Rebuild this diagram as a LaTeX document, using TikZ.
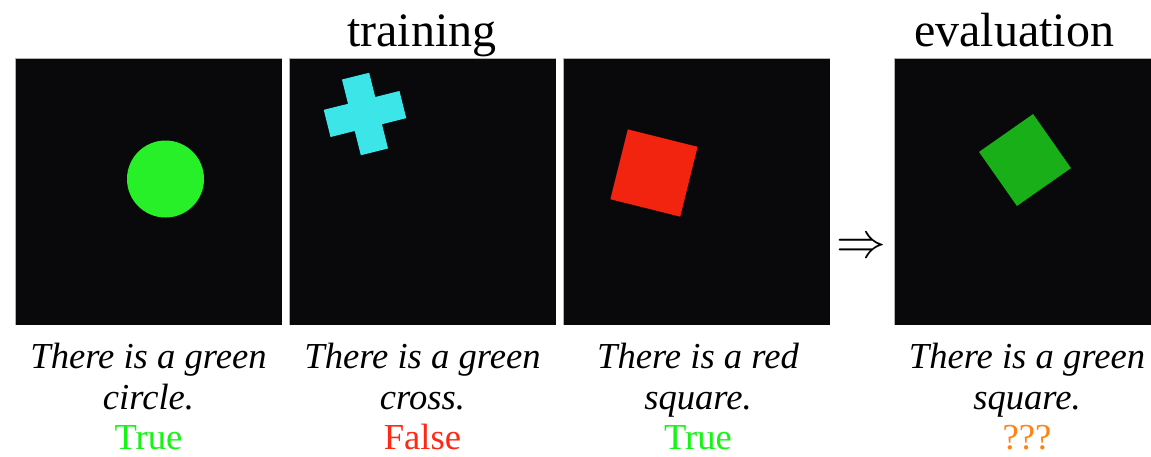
\documentclass[tikz,border=0pt]{standalone}
\usepackage{fontspec}
\setmainfont{Liberation Serif}
\definecolor{panelbg}{RGB}{9,9,11}
\definecolor{brgreen}{RGB}{40,240,40}
\definecolor{dkgreen}{RGB}{25,175,25}
\definecolor{shred}{RGB}{242,35,15}
\definecolor{shcyan}{RGB}{60,230,232}
\definecolor{valgreen}{RGB}{20,245,20}
\definecolor{valred}{RGB}{255,40,20}
\definecolor{valorange}{RGB}{255,130,20}
\begin{document}
\begin{tikzpicture}[x=0.5pt,y=-0.5pt,
  titletxt/.style={font=\fontsize{24}{28}\selectfont,anchor=base,inner sep=0pt},
  captxt/.style={font=\fontsize{18.3}{20.5}\selectfont\itshape,anchor=base,inner sep=0pt},
  verdict/.style={font=\fontsize{18.3}{20.5}\selectfont,anchor=base,inner sep=0pt}]
\useasboundingbox (0,0) rectangle (1151,456);
% panels
\fill[panelbg] (15,58) rectangle (282,325);
\draw[gray!60,line width=0.4pt] (15,325) -- (15,58) -- (282,58);
\fill[panelbg] (289,58) rectangle (556,325);
\draw[gray!60,line width=0.4pt] (289,325) -- (289,58) -- (556,58);
\fill[panelbg] (563,58) rectangle (830,325);
\draw[gray!60,line width=0.4pt] (563,325) -- (563,58) -- (830,58);
\fill[panelbg] (894,58) rectangle (1151,325);
\draw[gray!60,line width=0.4pt] (894,325) -- (894,58) -- (1151,58);
% shapes
\fill[brgreen] (165.5,179) circle[radius=38.5];
\fill[shcyan, rotate around={14:(365,114)}] (326,100) rectangle (404,128) (351,75) rectangle (379,153);
\fill[shred, rotate around={-14:(654,173)}] (618,137) rectangle (690,209);
\fill[dkgreen, rotate around={35:(1025,160)}] (992,127) rectangle (1058,193);
% titles
\node[titletxt] (ttrain) at (422,46) {training};
\node[titletxt] (teval) at (1014,46) {evaluation};
% arrow
\node[font=\fontsize{24}{28}\selectfont,inner sep=0pt] (arr) at (861,248) {$\Rightarrow$};
% captions
\node[captxt] (c1a) at (148.5,368) {There is a green};
\node[captxt] (c1b) at (148.5,409) {circle.};
\node[verdict,text=valgreen] (v1) at (148.5,449) {True};
\node[captxt] (c2a) at (422.5,368) {There is a green};
\node[captxt] (c2b) at (422.5,409) {cross.};
\node[verdict,text=valred] (v2) at (422.5,449) {False};
\node[captxt] (c3a) at (698,368) {There is a red};
\node[captxt] (c3b) at (698,409) {square.};
\node[verdict,text=valgreen] (v3) at (698,449) {True};
\node[captxt] (c4a) at (1027,368) {There is a green};
\node[captxt] (c4b) at (1027,409) {square.};
\node[verdict,text=valorange] (v4) at (1027,449) {???};
\end{tikzpicture}
\end{document}
